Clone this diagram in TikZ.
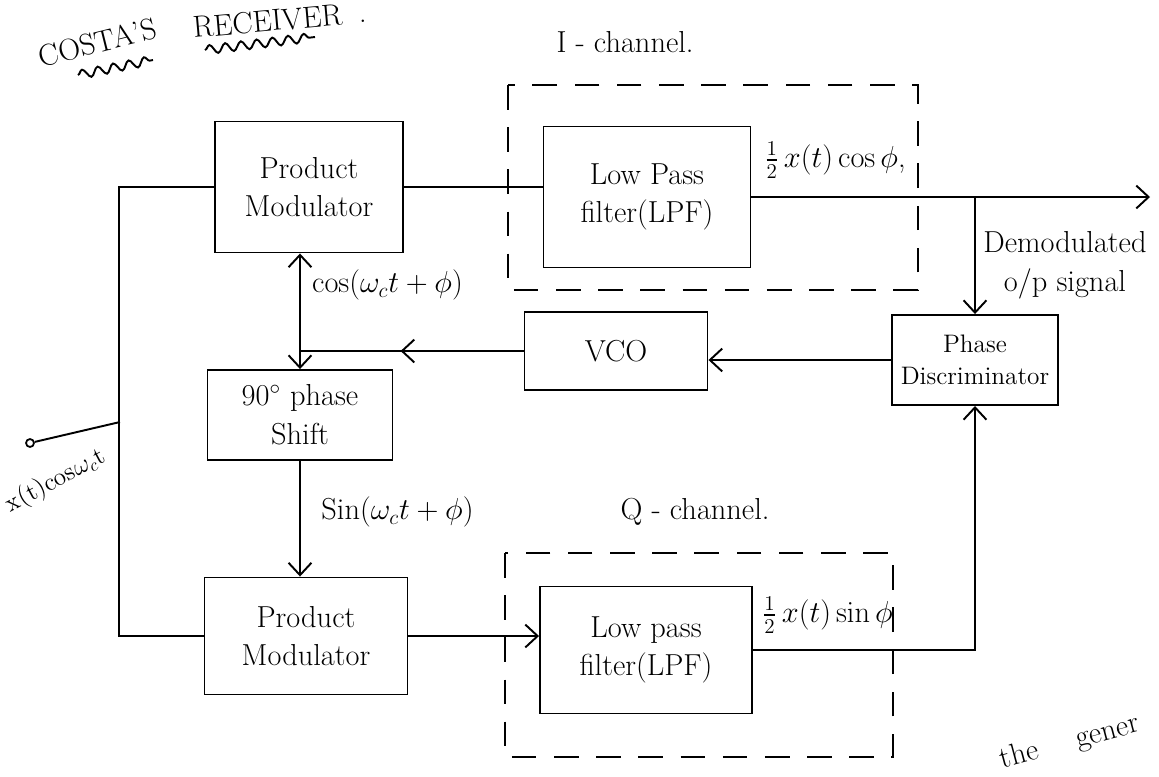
\documentclass[tikz,border=0pt]{standalone}
\usepackage{amsmath, amssymb}
\usepackage{tikz}
\usetikzlibrary{arrows.meta, calc, decorations.pathmorphing}

\begin{document}
\begin{tikzpicture}[
  block/.style={draw, line width=1.1pt, font=\LARGE, align=center, inner sep=2pt},
  arrow/.style={-{Straight Barb[length=7pt, width=13pt]}, line width=1.1pt},
  wire/.style={line width=1.1pt},
  chan/.style={line width=1.1pt, dash pattern=on 14pt off 10pt},
  lbl/.style={font=\LARGE, align=center},
  squiggle/.style={line width=1.1pt, decorate, decoration={snake, amplitude=2.5pt, segment length=9pt}},
]
\useasboundingbox (0,0) rectangle (23.18,-15.52);

% Title
\node[lbl, rotate=14] (costa) at (1.95,-0.85) {COSTA'S};
\node[lbl, rotate=5] (recv) at (5.35,-0.42) {RECEIVER};
\node[lbl] (dot) at (7.26,-0.42) {.};
\draw[squiggle] (1.56,-1.5) -- (3.06,-1.2);
\draw[squiggle] (4.1,-1.0) -- (6.3,-0.74);

% Channel boxes
\draw[chan] (10.16,-1.7) rectangle (18.36,-5.8);
\draw[chan] (10.1,-11.06) rectangle (17.86,-15.14);
\node[lbl] (ich) at (12.5,-0.84) {I - channel.};
\node[lbl] (qch) at (13.9,-10.24) {Q - channel.};

% Blocks
\node[block, minimum width=3.76cm, minimum height=2.62cm] (pm1) at (6.18,-3.74) {Product\\Modulator};
\node[block, minimum width=4.14cm, minimum height=2.82cm] (lpf1) at (12.94,-3.94) {Low Pass\\filter(LPF)};
\node[block, minimum width=3.66cm, minimum height=1.56cm] (vco) at (12.32,-7.02) {VCO};
\node[block, minimum width=3.32cm, minimum height=1.8cm, font=\Large] (pd) at (19.5,-7.2) {Phase\\Discriminator};
\node[block, minimum width=3.7cm, minimum height=1.8cm] (shift) at (6.0,-8.3) {$90^\circ$ phase\\Shift};
\node[block, minimum width=4.06cm, minimum height=2.34cm] (pm2) at (6.12,-12.72) {Product\\Modulator};
\node[block, minimum width=4.24cm, minimum height=2.54cm] (lpf2) at (12.92,-13.0) {Low pass\\filter(LPF)};

% Input
\node[circle, draw, line width=1pt, inner sep=1.6pt] (in) at (0.6,-8.86) {};
\coordinate (tap) at (2.4,-8.44);
\draw[wire] (pm1.west) -- ++(-1.9,0) coordinate (trunk) |- (pm2.west);
\draw[wire] (in) -- (tap);
\node[lbl, font=\Large, rotate=28] (xin) at (1.12,-9.62) {x(t)cos$\omega_c$t};

% I branch
\draw[wire] (pm1.east) -- (pm1.east -| lpf1.west);
\coordinate (out) at (23.0,-3.94);
\draw[arrow] (lpf1.east) -- (out);
\coordinate (tapout) at (pd.north |- lpf1.east);
\draw[arrow] (tapout) -- (pd.north);
\node[lbl] (icos) at (16.7,-3.2) {$\frac{1}{2}\,x(t)\cos\phi$,};
\node[lbl] (demod) at (21.3,-5.3) {Demodulated\\o/p signal};

% Loop
\draw[arrow] (pd.west) -- (pd.west -| vco.east);
\coordinate (split) at (shift.north |- vco.west);
\draw[wire] (vco.west) -- (split);
\draw[arrow] (vco.west) -- ($(vco.west)!0.55!(split)$);
\draw[arrow] (split) -- (split |- pm1.south);
\draw[arrow] (split) -- (shift.north);
\node[lbl] (cosl) at (7.75,-5.7) {cos$(\omega_c t+\phi)$};

% Q branch
\draw[arrow] (shift.south) -- (shift.south |- pm2.north);
\node[lbl] (sinl) at (7.95,-10.24) {Sin$(\omega_c t+\phi)$};
\draw[arrow] (pm2.east) -- (pm2.east -| lpf2.west);
\draw[arrow] (lpf2.east) -| (pd.south);
\node[lbl] (qsin) at (16.55,-12.3) {$\frac{1}{2}\,x(t)\sin\phi$};

% Note at the page edge
\node[lbl, rotate=15] (note) at (21.4,-14.85) {the \quad gener};
\end{tikzpicture}
\end{document}
